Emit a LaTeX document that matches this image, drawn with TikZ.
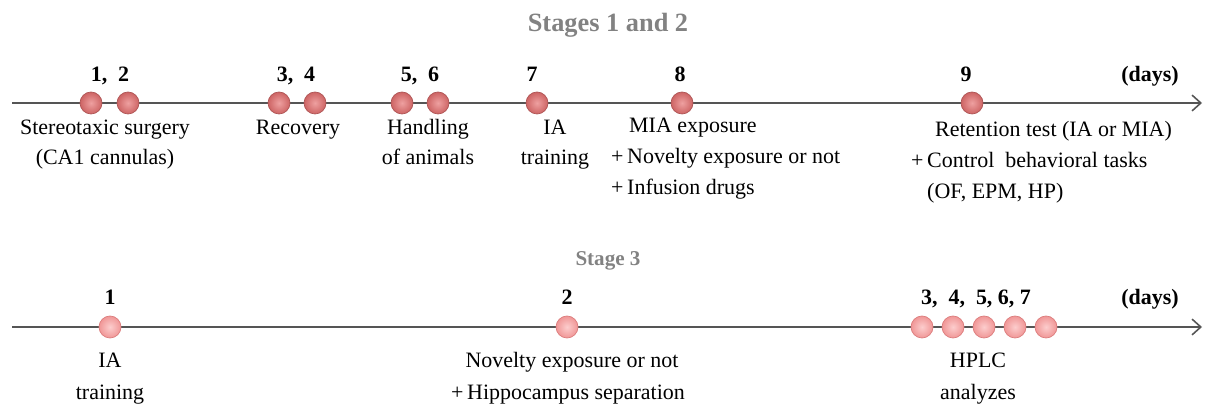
\documentclass[tikz,border=0pt]{standalone}
\usepackage{fontspec}
\setmainfont{Liberation Serif}
\usetikzlibrary{positioning,arrows.meta}
\definecolor{axisgrey}{RGB}{85,85,85}
\definecolor{titlegrey}{RGB}{130,130,130}
\definecolor{redin}{RGB}{238,160,160}
\definecolor{redout}{RGB}{205,100,100}
\definecolor{redrim}{RGB}{175,85,85}
\definecolor{pinkin}{RGB}{252,205,205}
\definecolor{pinkout}{RGB}{240,150,150}
\definecolor{pinkrim}{RGB}{220,125,125}

\begin{document}
\begin{tikzpicture}[x=0.02cm,y=-0.02cm,font=\fontsize{12.5}{15}\selectfont,
  dot/.style={circle,inner sep=0pt,minimum size=0.44cm,draw=redrim,line width=0.4pt,
    inner color=redin,outer color=redout},
  pinkdot/.style={dot,draw=pinkrim,inner color=pinkin,outer color=pinkout},
  daynum/.style={font=\fontsize{12.5}{15}\selectfont\bfseries,anchor=base},
  lbl/.style={anchor=base},
  axis/.style={draw=axisgrey,line width=0.9pt,-{Straight Barb[length=5pt,width=9pt]}},
  stagetitle/.style={font=\fontsize{15}{18}\selectfont\bfseries,text=titlegrey,anchor=base}]
  \useasboundingbox (0,0) rectangle (1214,408);

  % stages 1 and 2
  \node[stagetitle] (st12) at (608,32) {Stages 1 and 2};
  \coordinate (a0) at (12,103);
  \coordinate (a1) at (1202,103);
  \draw[axis] (a0) -- (a1);
  \foreach \x/\n in {91/1,128/2,279/3,315/4,402/5,438/6,537/7,682/8,972/9}
    \node[dot] (d\n) at (\x,103) {};

  \node[daynum] (n12) at (110,82) {1,~~2};
  \node[daynum] (n34) at (296,82) {3,~~4};
  \node[daynum] (n56) at (420,82) {5,~~6};
  \node[daynum] (n7) at (532,82) {7};
  \node[daynum] (n8) at (680,82) {8};
  \node[daynum] (n9) at (966,82) {9};
  \node[daynum] (days1) at (1150,82) {(days)};

  \node[lbl] (surg) at (105,135) {Stereotaxic surgery};
    \node[lbl] (surgb) at (105,165) {(CA1 cannulas)};
  \node[lbl] (recov) at (298,135) {Recovery};
  \node[lbl] (hand) at (428,135) {Handling};
    \node[lbl] (handb) at (428,165) {of animals};
  \node[lbl] (ia) at (555,135) {IA};
    \node[lbl] (iab) at (555,165) {training};
  \node[lbl,anchor=base west] (mia) at (623,133) {MIA exposure};
    \node[lbl,anchor=base west] (miab) at (605,164) {+\,Novelty exposure or not};
    \node[lbl,anchor=base west] (miac) at (605,195) {+\,Infusion drugs};
  \node[lbl,anchor=base west] (ret) at (929,137) {Retention test (IA or MIA)};
    \node[lbl,anchor=base west] (retb) at (905,168) {+\,Control~ behavioral tasks};
    \node[lbl,anchor=base west] (retc) at (921,199) {(OF, EPM, HP)};

  % stage 3
  \node[stagetitle,font=\fontsize{12}{14}\selectfont\bfseries] (st3) at (608,266) {Stage 3};
  \coordinate (b0) at (12,327);
  \coordinate (b1) at (1202,327);
  \draw[axis] (b0) -- (b1);
  \foreach \x/\n in {110/1,567/2,922/3,953/4,984/5,1015/6,1046/7}
    \node[pinkdot] (e\n) at (\x,327) {};

  \node[daynum] (m1) at (110,305) {1};
  \node[daynum] (m2) at (567,305) {2};
  \node[daynum] (m37) at (976,305) {3,~~4,~~5,~6,~7};
  \node[daynum] (days2) at (1150,305) {(days)};

  \node[lbl] (ia3) at (110,368) {IA};
    \node[lbl] (ia3b) at (110,400) {training};
  \node[lbl] (nov) at (572,368) {Novelty exposure or not};
    \node[lbl] (novb) at (568,400) {+\,Hippocampus separation};
  \node[lbl] (hplc) at (978,368) {HPLC};
    \node[lbl] (hplcb) at (978,400) {analyzes};
\end{tikzpicture}
\end{document}
